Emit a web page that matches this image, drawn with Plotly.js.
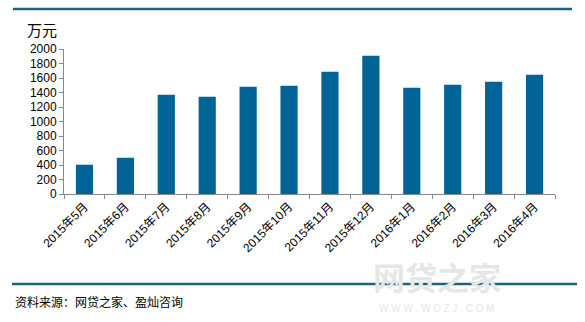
<!DOCTYPE html>
<html>
<head>
<meta charset="utf-8">
<script src="https://cdn.plot.ly/plotly-3.0.1.min.js"></script>
<style>html,body{margin:0;padding:0;background:#fff;}#chart{width:585px;height:322px;}</style>
</head>
<body>
<div id="chart"></div>
<script>
const categories = ["2015年5月","2015年6月","2015年7月","2015年8月","2015年9月","2015年10月","2015年11月","2015年12月","2016年1月","2016年2月","2016年3月","2016年4月"];
const values = [404, 500, 1370, 1342, 1480, 1494, 1687, 1908, 1466, 1508, 1549, 1645];
const yTicks = [0,200,400,600,800,1000,1200,1400,1600,1800,2000];
const unitLabel = "万元";
const sourceText = "资料来源：网贷之家、盈灿咨询";
const watermark = "网贷之家";
const watermarkSub = "W W W . W D Z J . C O M";

const font = "Liberation Sans, Arial, Noto Sans CJK SC, sans-serif";
const data = [{
  type: "bar",
  x: categories,
  y: values,
  marker: {color: "#006496"},
  hoverinfo: "x+y"
}];
const layout = {
  width: 585, height: 322,
  margin: {l: 64, r: 30, t: 49, b: 128},
  paper_bgcolor: "#fff", plot_bgcolor: "#fff",
  bargap: 0.58,
  showlegend: false,
  font: {family: font, size: 12, color: "#000"},
  xaxis: {
    type: "category",
    tickangle: -45,
    showline: true, linecolor: "#888", linewidth: 1,
    ticks: "outside", tickcolor: "#888", ticklen: 4, tickson: "boundaries",
    showgrid: false, zeroline: false,
    tickfont: {family: font, size: 12, color: "#000"}
  },
  yaxis: {
    range: [0, 2000],
    tickvals: yTicks,
    showline: true, linecolor: "#888", linewidth: 1,
    ticks: "outside", tickcolor: "#888", ticklen: 4,
    showgrid: false, zeroline: false,
    tickfont: {family: font, size: 12, color: "#000"}
  },
  shapes: [
    {type: "line", xref: "paper", yref: "paper", x0: -51/491, x1: 508/491, y0: 1 + 40/145, y1: 1 + 40/145, line: {color: "#1f5f80", width: 2.5}},
    {type: "line", xref: "paper", yref: "paper", x0: -52/491, x1: 513/491, y0: -90/145, y1: -90/145, line: {color: "#1f5f80", width: 2.5}}
  ],
  annotations: [
    {xref: "paper", yref: "paper", x: -39/491, y: 1 + 19/145, xanchor: "left", yanchor: "middle", text: unitLabel, showarrow: false, font: {family: "Noto Sans CJK SC, sans-serif", size: 15, color: "#000"}},
    {xref: "paper", yref: "paper", x: 373/491, y: -82/145, xanchor: "center", yanchor: "middle", text: "<b>" + watermark + "</b>", showarrow: false, font: {family: "Noto Sans CJK SC, sans-serif", size: 32, color: "#e6e6e6"}},
    {xref: "paper", yref: "paper", x: 373/491, y: -114/145, xanchor: "center", yanchor: "middle", text: watermarkSub, showarrow: false, font: {family: font, size: 10, color: "#e6e6e6"}},
    {xref: "paper", yref: "paper", x: -51/491, y: -107/145, xanchor: "left", yanchor: "middle", text: sourceText, showarrow: false, font: {family: "Noto Sans CJK SC, sans-serif", size: 12, color: "#000"}}
  ]
};
Plotly.newPlot("chart", data, layout, {displayModeBar: false, staticPlot: true});
</script>
</body>
</html>
